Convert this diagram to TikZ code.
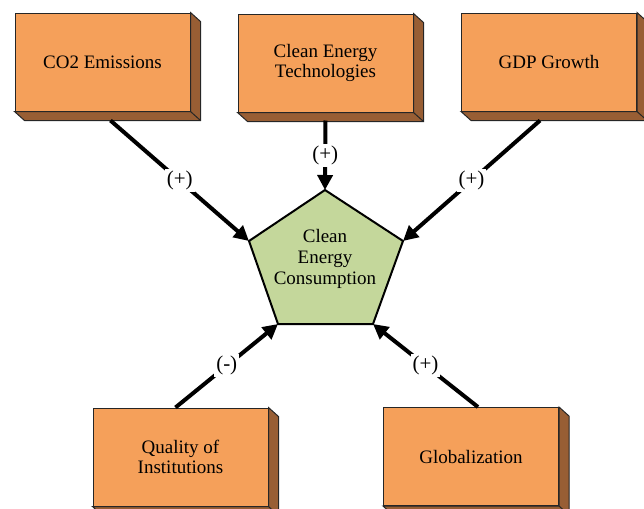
\documentclass[tikz,border=0pt]{standalone}
\usepackage{fontspec}
\setmainfont{Liberation Serif}
\usetikzlibrary{arrows.meta}
\definecolor{boxfront}{RGB}{245,160,90}
\definecolor{boxside}{RGB}{152,94,52}
\definecolor{corefill}{RGB}{196,215,155}

\begin{document}
\begin{tikzpicture}[x=0.5pt, y=-0.5pt,
        factor/.style={draw=black!85, line width=0.5pt, fill=boxfront, minimum width=87.5pt, minimum height=49pt, inner sep=0pt, align=center, font=\fontsize{9.5}{10.3}\selectfont},
        boxside/.style={draw=black!85, line width=0.5pt, fill=boxside},
        link/.style={line width=2pt, -{Triangle[length=7.5pt, width=7.5pt]}},
        sign/.style={fill=white, inner sep=1pt, font=\fontsize{10.5}{11}\selectfont}]
        \useasboundingbox (0,0) rectangle (644,509);
        \clip (0,0) rectangle (644,509);
        \node [factor] (co2) at (102.5,62) {CO2 Emissions};
        \node [factor] (tech) at (325.5,63) {Clean Energy\\Technologies};
        \node [factor] (gdp) at (549,62) {GDP Growth};
        \node [factor] (qual) at (180.5,457) {Quality of\\Institutions};
        \node [factor] (glob) at (471,456.5) {Globalization};
        \foreach \n in {co2,tech,gdp,qual,glob} {
            \filldraw [boxside] (\n.north east) -- ++(10,9) -- ([shift={(10,9)}]\n.south east) -- ([shift={(10,9)}]\n.south west) -- (\n.south west) -- (\n.south east) -- cycle;
            \draw [line width=0.5pt, black!85] (\n.south east) -- ++(10,9);
        }
        \coordinate (ptop) at (325,190);
        \coordinate (pright) at (403,241);
        \coordinate (pbr) at (373,324);
        \coordinate (pbl) at (278,324);
        \coordinate (pleft) at (249,241);
        \filldraw [line width=1pt, fill=corefill] (ptop) -- (pright) -- (pbr) -- (pbl) -- (pleft) -- cycle;
        \node [align=center, font=\fontsize{9.5}{10.5}\selectfont] (cec) at (325,259) {Clean\\Energy\\Consumption};
        \draw [link] ([shift={(8,9)}]co2.south) -- node[sign]{(+)} (pleft);
        \draw [link] ([shift={(0,8)}]tech.south) -- node[sign]{(+)} (ptop);
        \draw [link] ([shift={(-9,9)}]gdp.south) -- node[sign]{(+)} (pright);
        \draw [link] ([shift={(-5,0)}]qual.north) -- node[sign]{(-)} (pbl);
        \draw [link] ([shift={(7,0)}]glob.north) -- node[sign]{(+)} (pbr);
    \end{tikzpicture}
\end{document}
